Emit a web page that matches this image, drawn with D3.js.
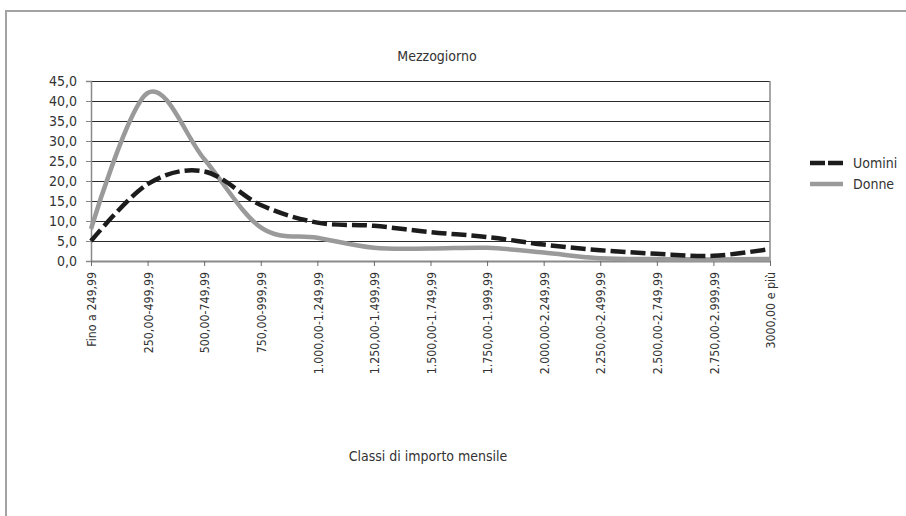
<!DOCTYPE html>
<html>
<head>
<meta charset="utf-8">
<script src="https://cdn.jsdelivr.net/npm/d3@7"></script>
<style>
  html, body { margin: 0; padding: 0; background: #fff; }
  svg { display: block; }
  .cond { font-family: "DejaVu Sans Condensed", "DejaVu Sans", sans-serif; font-stretch: condensed; fill: #333; }
  .xlab { font-family: "DejaVu Sans", Verdana, sans-serif; fill: #333; }
</style>
</head>
<body>
<svg id="chart" width="906" height="516"></svg>
<script>
// Monthly amount classes (EUR)
const categories = [
  "Fino a 249,99", "250,00-499,99", "500,00-749,99", "750,00-999,99",
  "1.000,00-1.249,99", "1.250,00-1.499,99", "1.500,00-1.749,99",
  "1.750,00-1.999,99", "2.000,00-2.249,99", "2.250,00-2.499,99",
  "2.500,00-2.749,99", "2.750,00-2.999,99", "3000,00 e più"
];
// Share (%) per class
const uomini = [5.0, 19.2, 22.4, 14.0, 9.6, 8.8, 7.2, 6.0, 4.1, 2.7, 1.8, 1.3, 3.0];
const donne  = [8.0, 42.0, 25.5, 8.4, 5.8, 3.3, 3.1, 3.3, 2.1, 0.7, 0.5, 0.4, 0.5];
const yTicks = [0, 5, 10, 15, 20, 25, 30, 35, 40, 45];
const seriesNames = ["Uomini", "Donne"];

const svg = d3.select("#chart");
const fmt = v => d3.format(".1f")(v).replace(".", ",");

const plot = { left: 91, right: 770, top: 81, bottom: 261 };
const x = d3.scalePoint().domain(categories).range([plot.left, plot.right]);
const y = d3.scaleLinear().domain([0, 45]).range([plot.bottom, plot.top]);

// outer chart frame
svg.append("rect")
  .attr("x", 6).attr("y", 11).attr("width", 920).attr("height", 520)
  .attr("fill", "none").attr("stroke", "#a3a3a3").attr("stroke-width", 2);

// title
svg.append("text").attr("class", "cond")
  .attr("x", 437).attr("y", 61).attr("text-anchor", "middle")
  .attr("font-size", 14).text("Mezzogiorno");

// horizontal gridlines
svg.append("g").selectAll("line").data(yTicks.filter(d => d > 0)).join("line")
  .attr("x1", plot.left).attr("x2", plot.right)
  .attr("y1", d => Math.round(y(d)) + 0.5).attr("y2", d => Math.round(y(d)) + 0.5)
  .attr("stroke", "#2a2a2a").attr("stroke-width", 1);

// right border of plot area
svg.append("line")
  .attr("x1", plot.right).attr("x2", plot.right)
  .attr("y1", plot.top).attr("y2", plot.bottom)
  .attr("stroke", "#8a8a8a").attr("stroke-width", 1.5);

// y axis
const yAxis = svg.append("g").attr("transform", `translate(${plot.left},0)`)
  .call(d3.axisLeft(y).tickValues(yTicks).tickSize(5).tickPadding(9).tickFormat(fmt));
yAxis.select(".domain").attr("stroke", "#8a8a8a").attr("stroke-width", 1.5);
yAxis.selectAll(".tick line").attr("stroke", "#8a8a8a");
yAxis.selectAll("text").attr("class", "cond").attr("font-size", 14).attr("fill", "#333")
  .attr("font-family", null);

// x axis: vertical labels, slightly compressed along the text direction
const xAxis = svg.append("g").attr("transform", `translate(0,${plot.bottom})`)
  .call(d3.axisBottom(x).tickSize(5).tickSizeOuter(0));
xAxis.select(".domain").attr("stroke", "#8a8a8a").attr("stroke-width", 2);
xAxis.selectAll(".tick line").attr("stroke", "#6a6a6a");
xAxis.selectAll("text")
  .attr("class", "xlab").attr("font-family", null).attr("font-size", 13).attr("fill", "#333")
  .attr("text-anchor", "end")
  .attr("transform", "rotate(-90) scale(0.85,1)")
  .attr("x", -11 / 0.85).attr("y", 0).attr("dy", "0.36em");

// axis title
svg.append("text").attr("class", "cond")
  .attr("x", 428).attr("y", 461).attr("text-anchor", "middle")
  .attr("font-size", 14).text("Classi di importo mensile");

// smoothed series lines
const line = d3.line()
  .x((d, i) => x(categories[i]))
  .y(d => y(d))
  .curve(d3.curveCardinal.tension(0));

const styles = {
  Uomini: { color: "#1c1c1c", dash: "15,5", width: 4.5 },
  Donne:  { color: "#9a9a9a", dash: null,   width: 4.5 }
};

svg.append("path").datum(donne)
  .attr("d", line).attr("fill", "none")
  .attr("stroke", styles.Donne.color).attr("stroke-width", styles.Donne.width)
  .attr("stroke-linejoin", "round");

svg.append("path").datum(uomini)
  .attr("d", line).attr("fill", "none")
  .attr("stroke", styles.Uomini.color).attr("stroke-width", styles.Uomini.width)
  .attr("stroke-dasharray", styles.Uomini.dash);

// legend
const legend = svg.append("g");
seriesNames.forEach((name, i) => {
  const ly = 163 + i * 21;
  const s = styles[name];
  legend.append("line")
    .attr("x1", 810).attr("x2", 843).attr("y1", ly).attr("y2", ly)
    .attr("stroke", s.color).attr("stroke-width", s.width)
    .attr("stroke-dasharray", s.dash ? "15,3" : null);
  legend.append("text").attr("class", "cond")
    .attr("x", 853).attr("y", ly).attr("dy", "0.35em")
    .attr("font-size", 14).text(name);
});
</script>
</body>
</html>
